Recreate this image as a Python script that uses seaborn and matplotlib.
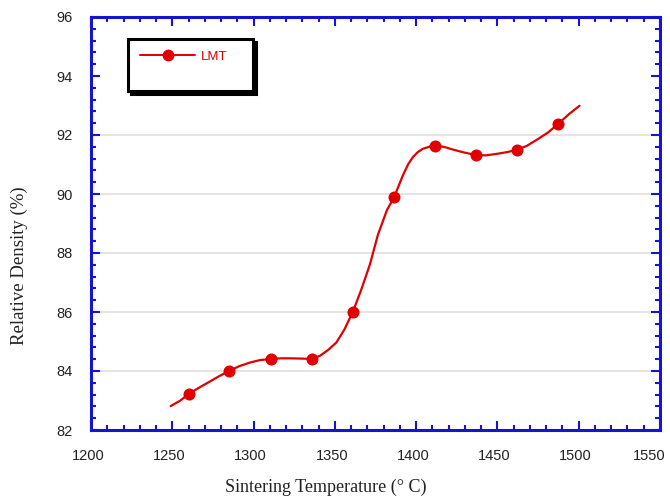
import numpy as np
import pandas as pd
import matplotlib
matplotlib.use('Agg')
import matplotlib.pyplot as plt
import matplotlib.transforms as mtransforms
import seaborn as sns
from matplotlib.lines import Line2D
from matplotlib.ticker import MultipleLocator

# 测量点（烧结温度, 相对密度）
temp_pts = [1260, 1285, 1311, 1336, 1361, 1386.5, 1411.5, 1437, 1462, 1487]
dens_pts = [83.22, 84.0, 84.41, 84.41, 86.0, 89.9, 91.63, 91.32, 91.49, 92.36]

# 平滑曲线
curve_t = [1249, 1255, 1260, 1266, 1273, 1279, 1285, 1291, 1298, 1304, 1311,
           1317, 1323, 1330, 1336, 1341, 1346, 1351, 1356, 1361, 1366, 1371.5,
           1376.5, 1382, 1386.5, 1392, 1395, 1398, 1401, 1404, 1408, 1411.5, 1417,
           1423, 1430, 1437, 1443, 1449.5, 1456, 1462, 1468, 1474, 1481, 1487,
           1494.5, 1500.5]
curve_d = [82.81, 83.0, 83.22, 83.42, 83.64, 83.83, 84.0, 84.16, 84.29, 84.37, 84.41,
           84.43, 84.43, 84.42, 84.41, 84.52, 84.72, 84.97, 85.42, 86.0, 86.72, 87.6,
           88.62, 89.45, 89.9, 90.65, 91.0, 91.25, 91.42, 91.53, 91.6, 91.63, 91.6,
           91.5, 91.4, 91.32, 91.31, 91.36, 91.42, 91.5, 91.63, 91.83, 92.08, 92.36,
           92.73, 92.99]

grid_levels = [84, 86, 88, 90, 92]
series_name = 'LMT'

sns.set_style('white')
plt.rcParams['font.family'] = ['Liberation Sans', 'DejaVu Sans']

red = '#e00000'
blue = '#1414d2'

fig = plt.figure(figsize=(6.7, 4.96), dpi=100)
ax = fig.add_axes([91/670, 66/496, 569/670, 413/496])

for g in grid_levels:
    ax.axhline(g, color='#e2e2e2', lw=1.3, zorder=0)

df_curve = pd.DataFrame({'t': curve_t, 'd': curve_d})
df_pts = pd.DataFrame({'t': temp_pts, 'd': dens_pts})
sns.lineplot(data=df_curve, x='t', y='d', sort=False, color=red, lw=1.6, ax=ax, zorder=3)
sns.scatterplot(data=df_pts, x='t', y='d', color=red, s=75, edgecolor=red, linewidth=0,
                ax=ax, zorder=4)

ax.set_xlim(1200, 1550)
ax.set_ylim(82, 96)
ax.xaxis.set_major_locator(MultipleLocator(50))
ax.xaxis.set_minor_locator(MultipleLocator(10))
ax.yaxis.set_major_locator(MultipleLocator(2))
ax.yaxis.set_minor_locator(MultipleLocator(0.4))

for s in ax.spines.values():
    s.set_color(blue)
    s.set_linewidth(2.2)

ax.tick_params(which='both', direction='in', color=blue, top=True, right=True,
               bottom=True, left=True, width=1.5)
ax.tick_params(which='major', length=6.5, labelsize=10.5, labelcolor='#222222')
ax.tick_params(axis='x', which='major', pad=14)
ax.tick_params(axis='y', which='major', pad=13)
ax.tick_params(which='minor', length=3.8)

# x刻度标签稍微左移，1550 再多移一点，免得被右边裁掉
fig.canvas.draw()
for lab in ax.get_xticklabels():
    dx = -11 if lab.get_text() == '1550' else -3
    lab.set_transform(lab.get_transform() + mtransforms.ScaledTranslation(dx/100, 0, fig.dpi_scale_trans))

ax.set_xlabel('')
ax.set_ylabel('')
fig.text(326/670, 1 - 487/496, 'Sintering Temperature (° C)', ha='center', va='center',
         fontsize=13, family=['Liberation Serif', 'DejaVu Serif'], color='#222222')
fig.text(19/670, 1 - 266/496, 'Relative Density (%)', ha='center', va='center',
         rotation=90, fontsize=13.5, family=['Liberation Serif', 'DejaVu Serif'],
         color='#222222')

handle = Line2D([], [], color=red, lw=1.4, marker='o', markersize=7.5)
blank = Line2D([], [], color='none')
leg = ax.legend([handle, blank], [series_name, ' '], loc='upper left',
                bbox_to_anchor=(37/569, (430-39)/413, 125/569, 0), mode='expand',
                borderaxespad=0, frameon=True, fancybox=False,
                shadow={'color': 'black', 'alpha': 1}, edgecolor='black',
                fontsize=9.5, handlelength=4.2, handletextpad=0.4, borderpad=0.9,
                labelspacing=0.3)
leg.get_frame().set_linewidth(2.2)
for t in leg.get_texts():
    t.set_color(red)

fig.savefig('out.png', dpi=100)
